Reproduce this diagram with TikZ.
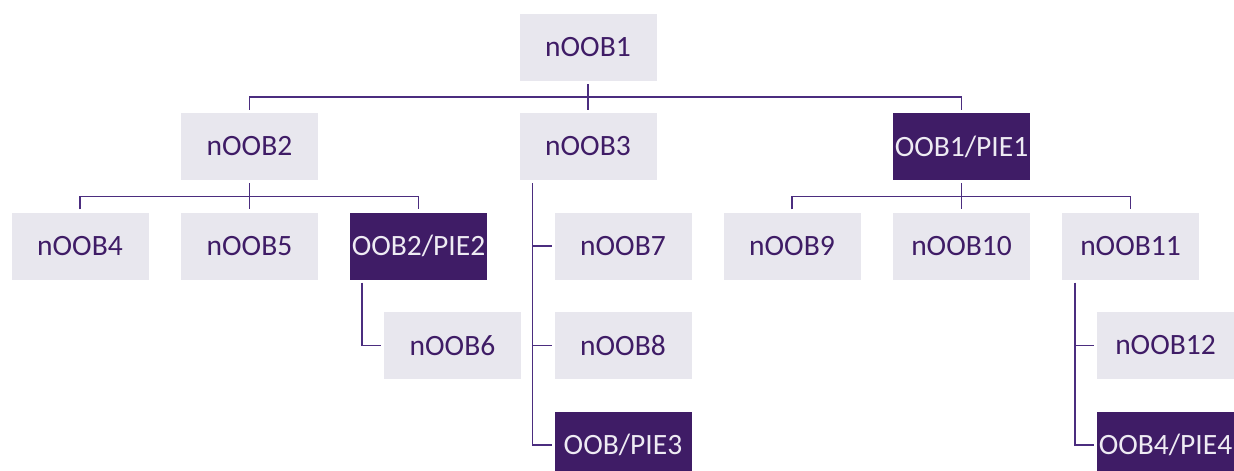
\documentclass[tikz,border=0pt]{standalone}
\usepackage{fontspec}
\setmainfont{Carlito}
\usetikzlibrary{calc}
\definecolor{lightbox}{HTML}{E8E7EE}
\definecolor{darkbox}{HTML}{3F1C66}
\definecolor{darktext}{HTML}{3F1C66}
\definecolor{lighttext}{HTML}{EEEBF3}
\definecolor{linec}{HTML}{4B2D7F}
\tikzset{
  box/.style={rectangle, minimum width=137pt, minimum height=67pt, inner sep=0pt, font=\fontsize{29.5}{31}\selectfont},
  lbox/.style={box, fill=lightbox, text=darktext},
  dbox/.style={box, fill=darkbox, text=lighttext},
  conn/.style={draw=linec, line width=1.4pt},
}
\begin{document}
\begin{tikzpicture}[x=1pt,y=-1pt]
\clip (0,0) rectangle (1234,471);
\useasboundingbox (0,0) rectangle (1234,471);
% row 1
\node[lbox] (n1) at (588,47.5) {nOOB1};
% row 2
\node[lbox] (n2) at (249.5,146.5) {nOOB2};
\node[lbox] (n3) at (588,146.5) {nOOB3};
\node[dbox] (p1) at (961.5,146.5) {OOB1/PIE1};
% row 3
\node[lbox] (n4) at (80,246) {nOOB4};
\node[lbox] (n5) at (249.5,246) {nOOB5};
\node[dbox] (p2) at (418.5,246) {OOB2/PIE2};
\node[lbox] (n7) at (623,246) {nOOB7};
\node[lbox] (n9) at (792,246) {nOOB9};
\node[lbox] (n10) at (961.5,246) {nOOB10};
\node[lbox] (n11) at (1130.5,246) {nOOB11};
% row 4
\node[lbox] (n6) at (452.5,345.5) {nOOB6};
\node[lbox] (n8) at (623,345.5) {nOOB8};
\node[lbox] (n12) at (1165.5,345.5) {nOOB12};
% row 5
\node[dbox] (p3) at (623,445) {OOB/PIE3};
\node[dbox] (p4) at (1165.5,445) {OOB4/PIE4};

% level 1 -> 2
\coordinate (h1) at ($(n1.south)!.5!(n3.north)$);
\draw[conn] ([yshift=-3pt]n1.south) -- ([yshift=3pt]n3.north);
\draw[conn] ([yshift=3pt]n2.north) |- (h1) -| ([yshift=3pt]p1.north);
% nOOB2 -> row 3
\coordinate (h2) at ($(n2.south)!.5!(n5.north)$);
\draw[conn] ([yshift=-3pt]n2.south) -- ([yshift=3pt]n5.north);
\draw[conn] ([yshift=3pt]n4.north) |- (h2) -| ([yshift=3pt]p2.north);
% OOB1/PIE1 -> row 3
\coordinate (h3) at ($(p1.south)!.5!(n10.north)$);
\draw[conn] ([yshift=-3pt]p1.south) -- ([yshift=3pt]n10.north);
\draw[conn] ([yshift=3pt]n9.north) |- (h3) -| ([yshift=3pt]n11.north);
% nOOB3 side chain
\coordinate (s3) at ([xshift=13pt,yshift=-3pt]n3.south west);
\draw[conn] (s3) |- ([xshift=-2.5pt]p3.west);
\draw[conn] (s3 |- n7.west) -- ([xshift=-2.5pt]n7.west);
\draw[conn] (s3 |- n8.west) -- ([xshift=-2.5pt]n8.west);
% OOB2/PIE2 side chain
\coordinate (s2) at ([xshift=12pt,yshift=-3pt]p2.south west);
\draw[conn] (s2) |- ([xshift=-2.5pt]n6.west);
% nOOB11 side chain
\coordinate (s11) at ([xshift=13pt,yshift=-3pt]n11.south west);
\draw[conn] (s11) |- ([xshift=-3pt]p4.west);
\draw[conn] (s11 |- n12.west) -- ([xshift=-3pt]n12.west);
\end{tikzpicture}
\end{document}
